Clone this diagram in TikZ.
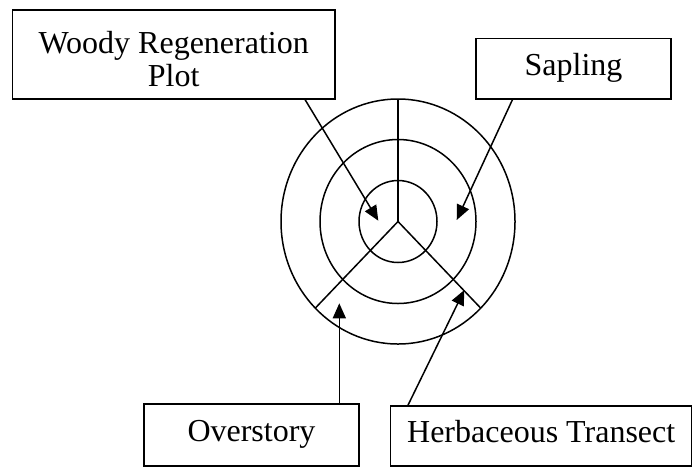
\documentclass[tikz,border=0pt]{standalone}
\usepackage{fontspec}
\setmainfont{Liberation Serif}
\usetikzlibrary{arrows.meta, positioning}

\begin{document}
\begin{tikzpicture}[x=0.5pt, y=0.5pt, line width=0.75pt,
        plotbox/.style={draw, rectangle, inner sep=0pt, align=center, font=\fontsize{16}{16.7}\selectfont},
        oneline/.style={text height=0.66em, text depth=0pt},
        pointer/.style={-{Triangle[length=7.5pt, width=6.5pt]}}]
        \useasboundingbox (0,0) rectangle (694,468);
        \coordinate (c) at (398,246.5);
        % nested plots and the three spokes
        \foreach \rx/\ry in {39/41, 78/82, 117/122.5}
        {
            \draw (c) ellipse [x radius=\rx, y radius=\ry];
        }
        \foreach \angle in {90, 225, 315}
        {
            \draw (c) -- ++(\angle:117 and 122.5);
        }
        % labels
        \node[plotbox, minimum width=161.4pt, minimum height=44.5pt] (woody) at (173.7,413.5) {\rule{0pt}{0.98em}Woody Regeneration\\Plot};
        \node[plotbox, oneline, minimum width=97.5pt, minimum height=30.4pt] (sapling) at (573.5,399.3) {Sapling};
        \node[plotbox, oneline, minimum width=107.5pt, minimum height=31pt] (over) at (251.5,33) {Overstory};
        \node[plotbox, oneline, minimum width=150.5pt, minimum height=30pt] (herb) at (541.2,32) {Herbaceous Transect};
        % arrow tips
        \coordinate (tipW) at (378.3,247.3);
        \coordinate (tipS) at (456.7,248);
        \coordinate (tipO) at (339.3,164.7);
        \coordinate (tipH) at (464.3,178);
        \draw[pointer] (woody.-19.2) -- (tipW);
        \draw[pointer] (sapling.207.4) -- (tipS);
        \draw[pointer] (over.north -| tipO) -- (tipO);
        \draw[pointer] (herb.167) -- (tipH);
    \end{tikzpicture}
\end{document}
